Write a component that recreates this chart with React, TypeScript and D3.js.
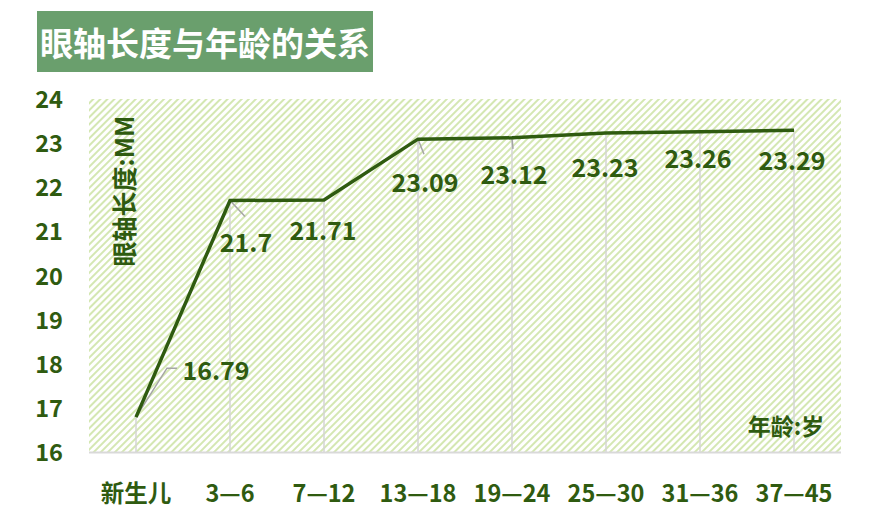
import React from 'react';
import * as d3 from 'd3';

const categories = ['新生儿', '3—6', '7—12', '13—18', '19—24', '25—30', '31—36', '37—45'];
const axialLength = [16.79, 21.7, 21.71, 23.09, 23.12, 23.23, 23.26, 23.29];
const yTicks = [16, 17, 18, 19, 20, 21, 22, 23, 24];

// label placement relative to each point (center of text)
const labelOffsets: [number, number][] = [
  [80, -48], [16, 41], [-1, 29], [7, 42], [2, 35], [-1, 33], [-2, 25], [-2, 29],
];
// leader lines: index -> path points relative to the point
const leaders: Record<number, [number, number][]> = {
  0: [[0, 0], [31, -49], [41, -49]],
  1: [[0, 0], [15, 16]],
  3: [[0, 0], [6, 15]],
  4: [[0, 0], [1, 11]],
};

const WIDTH = 878;
const HEIGHT = 509;
const plot = { left: 89, right: 841, top: 99, bottom: 452 };
const dark = '#2f5b10';
const font = '"Noto Sans CJK SC", "Noto Sans", sans-serif';

export default function App() {
  const x = d3
    .scalePoint<string>()
    .domain(categories)
    .range([plot.left, plot.right])
    .padding(0.5);

  const y = d3.scaleLinear().domain([16, 24]).range([plot.bottom, plot.top]);

  const line = d3
    .line<number>()
    .x((_, i) => x(categories[i]) as number)
    .y((d) => y(d));

  return (
    <div style={{ position: 'absolute', left: 0, top: 0 }}>
      <svg width={WIDTH} height={HEIGHT} style={{ display: 'block', fontFamily: font }}>
        <defs>
          <pattern
            id="hatch"
            patternUnits="userSpaceOnUse"
            width={5}
            height={5}
            patternTransform="rotate(45)"
          >
            <rect width={5} height={5} fill="#ffffff" />
            <rect width={2.4} height={5} fill="#d4e7b2" shapeRendering="crispEdges" />
          </pattern>
        </defs>

        {/* title */}
        <rect x={37} y={11} width={336} height={61} fill="#6a9f6d" />
        <text
          x={205}
          y={42}
          textAnchor="middle"
          dominantBaseline="central"
          fill="#ffffff"
          fontSize={33}
          fontWeight="bold"
        >
          眼轴长度与年龄的关系
        </text>

        {/* plot background */}
        <rect
          x={plot.left}
          y={plot.top}
          width={plot.right - plot.left}
          height={plot.bottom - plot.top}
          fill="url(#hatch)"
        />

        {/* drop lines */}
        {axialLength.map((v, i) => (
          <line
            key={`drop-${i}`}
            x1={x(categories[i])}
            x2={x(categories[i])}
            y1={y(v)}
            y2={plot.bottom}
            stroke="#d4d4d4"
            strokeWidth={1.5}
          />
        ))}

        {/* x axis line */}
        <line
          x1={plot.left}
          x2={plot.right}
          y1={plot.bottom + 0.5}
          y2={plot.bottom + 0.5}
          stroke="#d9d9d9"
          strokeWidth={2}
        />

        {/* leader lines */}
        {Object.entries(leaders).map(([k, pts]) => {
          const i = Number(k);
          const px = x(categories[i]) as number;
          const py = y(axialLength[i]);
          const d = d3.line()(pts.map(([dx, dy]) => [px + dx, py + dy]));
          return (
            <path key={`leader-${k}`} d={d ?? ''} fill="none" stroke="#a6a6a6" strokeWidth={1.5} />
          );
        })}

        {/* data line */}
        <path
          d={line(axialLength) ?? ''}
          fill="none"
          stroke={dark}
          strokeWidth={3.5}
          strokeLinejoin="miter"
        />

        {/* data labels */}
        {axialLength.map((v, i) => (
          <text
            key={`lbl-${i}`}
            x={(x(categories[i]) as number) + labelOffsets[i][0]}
            y={y(v) + labelOffsets[i][1]}
            textAnchor="middle"
            dominantBaseline="central"
            fill={dark}
            fontSize={25}
            fontWeight="bold"
          >
            {v}
          </text>
        ))}

        {/* y ticks */}
        {yTicks.map((t) => (
          <text
            key={`yt-${t}`}
            x={49}
            y={y(t) - 1}
            textAnchor="middle"
            dominantBaseline="central"
            fill={dark}
            fontSize={23.5}
            fontWeight="bold"
          >
            {t}
          </text>
        ))}

        {/* x ticks */}
        {categories.map((c) => (
          <text
            key={`xt-${c}`}
            x={x(c)}
            y={492}
            textAnchor="middle"
            dominantBaseline="central"
            fill={dark}
            fontSize={23.5}
            fontWeight="bold"
          >
            {c}
          </text>
        ))}

        {/* axis titles */}
        <text
          transform="translate(123,191) rotate(-90)"
          textAnchor="middle"
          dominantBaseline="central"
          fill={dark}
          fontSize={25}
          fontWeight="bold"
        >
          眼轴长度:MM
        </text>
        <text
          x={786}
          y={425}
          textAnchor="middle"
          dominantBaseline="central"
          fill={dark}
          fontSize={23}
          fontWeight="bold"
        >
          年龄:岁
        </text>
      </svg>
    </div>
  );
}
